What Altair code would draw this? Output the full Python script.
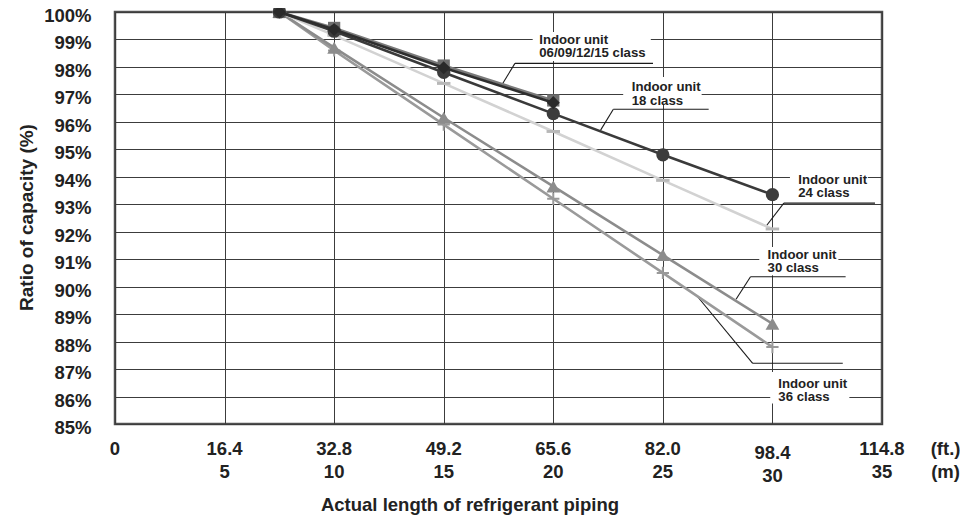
import altair as alt
import pandas as pd

FONT = "Liberation Sans"

# ---- data ----
distance_m = [7.5, 10, 15, 20, 25, 30]
cap_06_sq = [100, 99.42, 98.05, 96.78]
cap_06_dia = [100, 99.36, 97.97, 96.7]
cap_18 = [100, 99.3, 97.8, 96.3, 94.8, 93.35]
cap_24 = [100, 99.15, 97.4, 95.65, 93.87, 92.1]
cap_30 = [100, 98.7, 96.15, 93.65, 91.15, 88.65]
cap_36 = [100, 98.6, 95.9, 93.2, 90.5, 87.8]

m_ticks = [0, 5, 10, 15, 20, 25, 30, 35]
ft_labels = ["0", "16.4", "32.8", "49.2", "65.6", "82.0", "98.4", "114.8"]
m_labels = ["", "5", "10", "15", "20", "25", "30", "35"]
label_shift = [0, 0, 0, 0, 0, 0, 4, 0]
y_ticks = list(range(85, 101))

unit_x = 37.9
unit_labels = ["(ft.)", "(m)"]

# annotation text (left x, first-line baseline y in data units)
ann_lines = [["Indoor unit", "06/09/12/15 class"],
             ["Indoor unit", "18 class"],
             ["Indoor unit", "24 class"],
             ["Indoor unit", "30 class"],
             ["Indoor unit", "36 class"]]
ann_x = [19.36, 23.58, 31.18, 29.78, 30.27]
ann_y = [98.84, 97.11, 93.73, 91.00, 86.31]

# white boxes behind annotation text
box_x = [19.06, 23.19, 30.80, 29.40, 29.90]
box_x2 = [24.45, 26.77, 34.36, 33.01, 33.51]
box_y = [99.27, 97.63, 94.32, 91.44, 86.89]
box_y2 = [98.22, 96.61, 93.19, 90.42, 85.75]

# leader lines: underline (x..x2 at y) and diagonal (x -> tip_x, y -> tip_y)
lead_x = [18.25, 22.74, 30.52, 29.00, 29.10]
lead_x2 = [24.55, 27.09, 34.68, 33.34, 33.21]
lead_y = [98.13, 96.46, 93.04, 90.36, 87.21]
tip_x = [17.65, 22.16, 29.69, 28.34, 26.56]
tip_y = [97.34, 95.70, 92.18, 89.54, 89.66]

W, H = 767, 412

xs = alt.Scale(domain=[0, 35], nice=False, zero=False)
ys = alt.Scale(domain=[85, 100], nice=False, zero=False)

x_axis = alt.Axis(values=m_ticks, grid=True, gridColor="#3c3c3c", gridWidth=1,
                  labels=False, ticks=False, domain=False,
                  title="Actual length of refrigerant piping",
                  titleFont=FONT, titleFontSize=18.5, titleFontWeight="bold",
                  titleColor="#222", titleX=354.5, titleY=80.5,
                  titleBaseline="middle", titleAlign="center")
y_axis = alt.Axis(values=y_ticks, grid=True, gridColor="#3c3c3c", gridWidth=1,
                  labelExpr="datum.value + '%'", labelFont=FONT, labelFontSize=18.5,
                  labelFontWeight="bold", labelColor="#222", labelPadding=24,
                  labelOffset=3.5, ticks=False, domain=False,
                  title="Ratio of capacity (%)", titleFont=FONT, titleFontSize=19,
                  titleFontWeight="bold", titleColor="#222", titleX=-89, titleY=205,
                  titleAngle=270, titleBaseline="middle", titleAlign="center")

X = alt.X("x:Q", scale=xs, axis=x_axis)
Y = alt.Y("y:Q", scale=ys, axis=y_axis)

layers = []

# grid carrier (invisible)
grid_df = pd.DataFrame({"x": [0, 35], "y": [85, 100]})
layers.append(alt.Chart(grid_df).mark_point(opacity=0).encode(x=X, y=Y))

# white boxes
box_df = pd.DataFrame({"x": box_x, "x2": box_x2, "y": box_y, "y2": box_y2})
layers.append(alt.Chart(box_df).mark_rect(fill="white", strokeWidth=0).encode(
    x=X, x2="x2:Q", y=Y, y2="y2:Q"))

# leader lines
under_df = pd.DataFrame({"x": lead_x, "x2": lead_x2, "y": lead_y, "y2": lead_y})
diag_df = pd.DataFrame({"x": lead_x, "x2": tip_x, "y": lead_y, "y2": tip_y})
for d in (under_df, diag_df):
    layers.append(alt.Chart(d).mark_rule(color="#1a1a1a", strokeWidth=1.1).encode(
        x=X, x2="x2:Q", y=Y, y2="y2:Q"))

# annotation text
ann_df = pd.DataFrame({"x": ann_x, "y": ann_y, "t": ann_lines})
layers.append(alt.Chart(ann_df).mark_text(
    align="left", baseline="alphabetic", font=FONT, fontSize=13.2,
    fontWeight="bold", color="#222", lineHeight=13.2).encode(x=X, y=Y, text="t"))

# series
series = [
    ("36", distance_m, cap_36, "#9a9a9a", "M-1,0H1M0,-1V1", "#999999", 150, False),
    ("30", distance_m, cap_30, "#8c8c8c", "triangle-up", "#8c8c8c", 190, True),
    ("24", distance_m, cap_24, "#d2d2d2", "M-1.1,-0.24H1.1V0.24H-1.1Z", "#b8b8b8", 150, True),
    ("06sq", distance_m[:4], cap_06_sq, "#7a7a7a", "square", "#6e6e6e", 150, True),
    ("18", distance_m, cap_18, "#3a3a3a", "circle", "#3c3c3c", 175, True),
    ("06dia", distance_m[:4], cap_06_dia, "#2e2e2e", "diamond", "#2a2a2a", 170, True),
]
for name, xv, yv, lc, shape, mc, size, filled in series:
    df = pd.DataFrame({"x": xv, "y": yv})
    base = alt.Chart(df)
    layers.append(base.mark_line(color=lc, strokeWidth=2.6).encode(x=X, y=Y))
    if filled:
        layers.append(base.mark_point(shape=shape, filled=True, fill=mc, size=size,
                                      opacity=1, strokeWidth=0).encode(x=X, y=Y))
    else:
        layers.append(base.mark_point(shape=shape, filled=False, stroke=mc, size=size,
                                      opacity=1, strokeWidth=2).encode(x=X, y=Y))

# x tick labels (two rows)
ft_df = pd.DataFrame({"x": m_ticks, "lab": ft_labels, "dy": [437 + s for s in label_shift]})
m_df = pd.DataFrame({"x": m_ticks, "lab": m_labels, "dy": [460 + s for s in label_shift]})
for d in (ft_df, m_df):
    layers.append(alt.Chart(d).mark_text(
        align="center", baseline="middle", font=FONT, fontSize=18.5,
        fontWeight="bold", color="#222").encode(
        x=X, y=alt.Y("dy:Q", scale=None), text="lab:N"))

unit_df = pd.DataFrame({"x": [unit_x, unit_x], "lab": unit_labels, "dy": [437, 460]})
layers.append(alt.Chart(unit_df).mark_text(
    align="center", baseline="middle", font=FONT, fontSize=18.5,
    fontWeight="bold", color="#222").encode(
    x=X, y=alt.Y("dy:Q", scale=None), text="lab:N"))

chart = alt.layer(*layers).properties(
    width=W, height=H,
    autosize=alt.AutoSizeParams(type="none"),
    padding={"left": 107, "top": 4, "right": 78, "bottom": 91},
    background="white",
).configure_view(stroke="#505050", strokeWidth=2.5)

chart.save("out.html", embed_options={"renderer": "svg", "actions": False})
